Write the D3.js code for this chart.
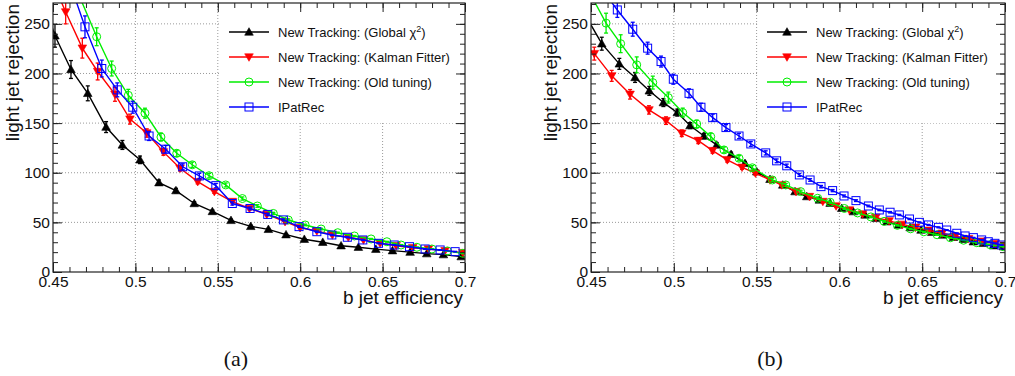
<!DOCTYPE html>
<html>
<head>
<meta charset="utf-8">
<script src="https://cdn.jsdelivr.net/npm/d3@7"></script>
<style>
  body { margin: 0; background: #fff; }
  svg { display: block; }
</style>
</head>
<body>
<svg id="chart" width="1015" height="376" font-family="Liberation Sans, Arial, sans-serif"></svg>
<script>
// ---------------- data: panel (a) ----------------
const aGlobalX = [0.4410, 0.4512, 0.4609, 0.4711, 0.4822, 0.4921, 0.5028, 0.5143, 0.5246, 0.5357, 0.5467, 0.5580, 0.5700, 0.5807, 0.5914, 0.6025, 0.6137, 0.6248, 0.6353, 0.6459, 0.6560, 0.6667, 0.6768, 0.6869, 0.6977];
const aGlobalY = [290, 238, 204, 180, 146, 128, 113, 90, 82, 69, 61, 52, 46, 43, 37.6, 33, 30, 26.5, 25, 23, 21.5, 20, 18.5, 17.5, 15.5];
const aGlobalE = [0, 11.5, 9, 7.5, 5.5, 4.5, 3.8, 2.7, 2.3, 1.8, 1.5, 1.2, 1, 0.9, 0.7, 0.6, 0.5, 0.4, 0.4, 0.4, 0.3, 0.3, 0.3, 0.3, 0.2];

const aKalmanX = [0.4477, 0.4577, 0.4678, 0.4771, 0.4876, 0.4967, 0.5069, 0.5170, 0.5271, 0.5378, 0.5479, 0.5588, 0.5692, 0.5797, 0.5908, 0.5999, 0.6101, 0.6195, 0.6292, 0.6384, 0.6485, 0.6582, 0.6683, 0.6778, 0.6879, 0.6987];
const aKalmanY = [300, 262, 225.5, 202, 179, 154, 140, 121, 104.5, 91, 81, 71, 64, 58, 50.7, 44.7, 41.3, 37.3, 35, 32.3, 28.9, 26.5, 24.5, 23.2, 21.5, 19.5];
const aKalmanE = [0, 12, 10, 8.5, 7, 5, 4.2, 3.4, 2.7, 2.2, 1.8, 1.5, 1.3, 1.1, 0.9, 0.8, 0.7, 0.6, 0.5, 0.5, 0.4, 0.4, 0.3, 0.3, 0.3, 0.3];

const aOldX = [0.4665, 0.4765, 0.4856, 0.4957, 0.5058, 0.5155, 0.5251, 0.5345, 0.5447, 0.5548, 0.5649, 0.5740, 0.5837, 0.5928, 0.6030, 0.6127, 0.6228, 0.6329, 0.6430, 0.6526, 0.6612, 0.6708, 0.6799, 0.6893, 0.6987];
const aOldY = [276, 237, 205, 178, 160, 136, 119.6, 108, 97, 87.7, 74, 66.5, 59, 52.4, 47.4, 43.3, 39.6, 36.3, 33.3, 30.5, 27.2, 24.9, 23.2, 21.2, 18.8];
const aOldE = [0, 9, 7.5, 6, 5, 4, 3.2, 2.7, 2.3, 2, 1.6, 1.3, 1.1, 0.9, 0.8, 0.7, 0.6, 0.5, 0.5, 0.4, 0.4, 0.3, 0.3, 0.3, 0.3];

const aIPatX = [0.4594, 0.4694, 0.4796, 0.4890, 0.4984, 0.5083, 0.5184, 0.5287, 0.5388, 0.5488, 0.5588, 0.5696, 0.5803, 0.5898, 0.5993, 0.6101, 0.6192, 0.6286, 0.6380, 0.6475, 0.6570, 0.6663, 0.6758, 0.6849, 0.6940];
const aIPatY = [295, 247, 205, 183.5, 166, 137, 123.7, 106, 96.8, 87, 69, 64, 58, 52.5, 45.7, 40.6, 37.3, 35, 32.3, 28.9, 27.2, 25.5, 23.2, 22.2, 20.5];
const aIPatE = [0, 11, 8.5, 7, 6, 4.5, 3.8, 3, 2.6, 2.2, 1.6, 1.4, 1.2, 1, 0.8, 0.7, 0.6, 0.5, 0.5, 0.4, 0.4, 0.3, 0.3, 0.3, 0.3];

// ---------------- data: panel (b) ----------------
const bGlobalX = [0.4465, 0.4565, 0.4671, 0.4766, 0.4852, 0.4937, 0.5021, 0.5098, 0.5182, 0.5259, 0.5346, 0.5430, 0.5501, 0.5581, 0.5658, 0.5732, 0.5803, 0.5879, 0.5944, 0.6014, 0.6084, 0.6155, 0.6221, 0.6286, 0.6356, 0.6427, 0.6493, 0.6558, 0.6624, 0.6689, 0.6749, 0.6809, 0.6869, 0.6930, 0.6990];
const bGlobalY = [259, 230, 209.7, 196, 182.5, 170.7, 160.6, 147.5, 137, 128, 118.6, 109.5, 101, 93.4, 87.7, 81, 76, 72.6, 69.3, 64.2, 60.8, 57.5, 54, 50.7, 47.4, 44.7, 42.3, 40, 37.3, 35, 33, 30.5, 28.9, 26.5, 25.5];
const bGlobalE = [0, 6.5, 5.5, 5, 4.5, 4, 3.5, 3, 2.7, 2.4, 2.1, 1.8, 1.6, 1.4, 1.3, 1.1, 1, 0.9, 0.9, 0.8, 0.7, 0.7, 0.6, 0.6, 0.5, 0.5, 0.5, 0.4, 0.4, 0.4, 0.4, 0.3, 0.3, 0.3, 0.3];

const bKalmanX = [0.4520, 0.4625, 0.4736, 0.4850, 0.4953, 0.5048, 0.5148, 0.5234, 0.5323, 0.5412, 0.5493, 0.5581, 0.5652, 0.5738, 0.5819, 0.5900, 0.5980, 0.6060, 0.6140, 0.6220, 0.6300, 0.6380, 0.6460, 0.6540, 0.6620, 0.6700, 0.6780, 0.6860, 0.6940, 0.6995];
const bKalmanY = [220, 197.6, 179, 163.3, 152.5, 139.8, 132.4, 122.3, 113, 105.5, 99.5, 92.7, 87.7, 81, 76, 71, 66.5, 62.5, 58.5, 55, 51.5, 48, 45, 42, 39, 36, 33.5, 31, 28.5, 27];
const bKalmanE = [6.5, 5.5, 4.8, 4.2, 3.8, 3.3, 3, 2.6, 2.3, 2, 1.8, 1.6, 1.5, 1.3, 1.2, 1.1, 1, 0.9, 0.8, 0.8, 0.7, 0.6, 0.6, 0.5, 0.5, 0.4, 0.4, 0.4, 0.3, 0.3];

const bOldX = [0.4490, 0.4591, 0.4679, 0.4776, 0.4873, 0.4967, 0.5054, 0.5138, 0.5223, 0.5303, 0.5394, 0.5474, 0.5595, 0.5676, 0.5766, 0.5869, 0.5944, 0.6030, 0.6110, 0.6190, 0.6270, 0.6350, 0.6430, 0.6510, 0.6590, 0.6670, 0.6750, 0.6830, 0.6910, 0.6990];
const bOldY = [282, 250.7, 230, 208.7, 190.8, 175.7, 160.6, 149, 136.4, 123, 114.6, 105, 92.7, 87.7, 81, 74.3, 70.3, 64, 59.5, 55.5, 51, 47, 43.5, 40.5, 37.5, 34.5, 32, 29.5, 27.5, 25.5];
const bOldE = [0, 10, 9, 8, 6.5, 5.5, 4.5, 4, 3.5, 3, 2.6, 2.2, 1.8, 1.6, 1.4, 1.3, 1.2, 1, 0.9, 0.8, 0.7, 0.6, 0.6, 0.5, 0.5, 0.4, 0.4, 0.4, 0.3, 0.3];

const bIPatX = [0.4565, 0.4659, 0.4752, 0.4842, 0.4923, 0.4997, 0.5092, 0.5164, 0.5235, 0.5315, 0.5394, 0.5465, 0.5555, 0.5621, 0.5682, 0.5758, 0.5823, 0.5889, 0.5959, 0.6028, 0.6100, 0.6175, 0.6241, 0.6306, 0.6362, 0.6423, 0.6483, 0.6538, 0.6598, 0.6648, 0.6709, 0.6759, 0.6809, 0.6859, 0.6899, 0.6939, 0.6980];
const bIPatY = [285, 264, 244.6, 225.5, 212, 194.2, 180, 166, 155.5, 145.5, 137, 129, 120, 112, 107, 97.8, 92.7, 86, 82, 76.6, 71.9, 66.5, 62.5, 60.2, 57.5, 53.4, 50, 47.4, 45, 42.3, 39, 36.3, 34.6, 32.3, 30.5, 28.9, 27.2];
const bIPatE = [0, 7.5, 7, 6, 5.5, 5, 4.5, 4, 3.5, 3, 2.7, 2.4, 2.1, 1.9, 1.7, 1.5, 1.3, 1.2, 1.1, 1, 0.9, 0.8, 0.7, 0.7, 0.6, 0.6, 0.5, 0.5, 0.5, 0.4, 0.4, 0.4, 0.3, 0.3, 0.3, 0.3, 0.3];

// ---------------- labels ----------------
const seriesNames = ["New Tracking: (Global \u03c7", "New Tracking: (Kalman Fitter)", "New Tracking: (Old tuning)", "IPatRec"];
const seriesColors = ["#000000", "#ff0000", "#00ee00", "#0000ff"];
const seriesMarkers = ["triangleUp", "triangleDown", "circle", "square"];
const xTicks = [0.45, 0.5, 0.55, 0.6, 0.65, 0.7];
const yTicks = [0, 50, 100, 150, 200, 250];
const xDomain = [0.45, 0.7];
const yDomain = [0, 271];
const xTitle = "b jet efficiency";
const yTitle = "light jet rejection";
const panelLabels = ["(a)", "(b)"];

const panels = [
  { key: "a", box: [53, 465, 3, 272], legendX: 220, labelX: 236,
    series: [[aGlobalX, aGlobalY, aGlobalE], [aKalmanX, aKalmanY, aKalmanE], [aOldX, aOldY, aOldE], [aIPatX, aIPatY, aIPatE]] },
  { key: "b", box: [591, 1005, 3, 272], legendX: 758, labelX: 770,
    series: [[bGlobalX, bGlobalY, bGlobalE], [bKalmanX, bKalmanY, bKalmanE], [bOldX, bOldY, bOldE], [bIPatX, bIPatY, bIPatE]] }
];

const SANS = "Liberation Sans, Arial, sans-serif";
const SERIF = "Liberation Serif, DejaVu Serif, serif";
const svg = d3.select("#chart");
svg.append("rect").attr("width", 1015).attr("height", 376).attr("fill", "#fff");

function drawMarker(g, type, color, cx, cy) {
  if (type === "triangleUp" || type === "triangleDown") {
    const s = 4.3, dir = type === "triangleUp" ? 1 : -1;
    const pts = [[cx, cy - dir * s], [cx - s, cy + dir * s * 0.75], [cx + s, cy + dir * s * 0.75]];
    g.append("path").attr("d", "M" + pts.map(p => p.join(",")).join("L") + "Z").attr("fill", color).attr("stroke", color).attr("stroke-width", 0.6);
  } else if (type === "circle") {
    g.append("circle").attr("cx", cx).attr("cy", cy).attr("r", 4).attr("fill", "none").attr("stroke", color).attr("stroke-width", 1);
  } else {
    g.append("rect").attr("x", cx - 4).attr("y", cy - 4).attr("width", 8).attr("height", 8).attr("fill", "none").attr("stroke", color).attr("stroke-width", 1);
  }
}

panels.forEach((p, pi) => {
  const [L, R, T, B] = p.box;
  const x = d3.scaleLinear().domain(xDomain).range([L, R]);
  const y = d3.scaleLinear().domain(yDomain).range([B, T]);
  const g = svg.append("g");

  const clipId = "clip-" + p.key;
  svg.append("clipPath").attr("id", clipId).append("rect").attr("x", L).attr("y", T).attr("width", R - L).attr("height", B - T);

  // grid
  const grid = g.append("g").attr("stroke", "#9a9a9a").attr("stroke-width", 1).attr("stroke-dasharray", "1,2");
  xTicks.slice(1, -1).forEach(t => grid.append("line").attr("x1", x(t)).attr("x2", x(t)).attr("y1", T).attr("y2", B));
  yTicks.slice(1).forEach(t => grid.append("line").attr("x1", L).attr("x2", R).attr("y1", y(t)).attr("y2", y(t)));

  // legend background
  g.append("rect").attr("x", p.legendX).attr("y", T).attr("width", R - 2 - p.legendX).attr("height", 120).attr("fill", "#fff");

  // data
  const dg = g.append("g").attr("clip-path", `url(#${clipId})`);
  const line = d3.line().x(d => x(d[0])).y(d => y(d[1]));
  p.series.forEach((s, si) => {
    const color = seriesColors[si];
    const pts = s[0].map((xv, i) => [xv, s[1][i], s[2][i]]);
    dg.append("path").attr("d", line(pts)).attr("fill", "none").attr("stroke", color).attr("stroke-width", 1.4);
    const eg = dg.append("g").attr("stroke", color).attr("stroke-width", 1.3);
    pts.forEach(d => {
      if (d[2] > 0) {
        const cx = x(d[0]), y1 = y(d[1] - d[2]), y2 = y(d[1] + d[2]);
        eg.append("line").attr("x1", cx).attr("x2", cx).attr("y1", y1).attr("y2", y2);
        eg.append("line").attr("x1", cx - 2).attr("x2", cx + 2).attr("y1", y1).attr("y2", y1);
        eg.append("line").attr("x1", cx - 2).attr("x2", cx + 2).attr("y1", y2).attr("y2", y2);
      }
    });
    const mg = dg.append("g");
    pts.forEach(d => drawMarker(mg, seriesMarkers[si], color, x(d[0]), y(d[1])));
  });

  // axes with inward ticks (ROOT style)
  const xMinor = d3.range(0.45, 0.7001, 0.01).map(v => +v.toFixed(3));
  const yMinor = d3.range(0, 271, 10);
  const axStyle = sel => { sel.select(".domain").remove(); sel.selectAll("line").attr("stroke", "#222"); };

  g.append("g").attr("transform", `translate(0,${B})`).call(d3.axisBottom(x).tickValues(xMinor).tickSize(-5).tickFormat("")).call(axStyle);
  g.append("g").attr("transform", `translate(0,${T})`).call(d3.axisTop(x).tickValues(xMinor).tickSize(-5).tickFormat("")).call(axStyle);
  g.append("g").attr("transform", `translate(0,${T})`).call(d3.axisTop(x).tickValues(xTicks).tickSize(-9).tickFormat("")).call(axStyle);
  g.append("g").attr("transform", `translate(${L},0)`).call(d3.axisLeft(y).tickValues(yMinor).tickSize(-5).tickFormat("")).call(axStyle);
  g.append("g").attr("transform", `translate(${R},0)`).call(d3.axisRight(y).tickValues(yMinor).tickSize(-5).tickFormat("")).call(axStyle);
  g.append("g").attr("transform", `translate(${R},0)`).call(d3.axisRight(y).tickValues(yTicks).tickSize(-9).tickFormat("")).call(axStyle);

  const xa = g.append("g").attr("transform", `translate(0,${B})`)
    .call(d3.axisBottom(x).tickValues(xTicks).tickSize(-9).tickPadding(4).tickFormat(d => String(+d.toFixed(2)))).call(axStyle);
  xa.attr("font-family", SANS).attr("font-size", 15.5);
  xa.selectAll("text").attr("fill", "#111");
  const ya = g.append("g").attr("transform", `translate(${L},0)`)
    .call(d3.axisLeft(y).tickValues(yTicks).tickSize(-9).tickPadding(3).tickFormat(d3.format("d"))).call(axStyle);
  ya.attr("font-family", SANS).attr("font-size", 15.5);
  ya.selectAll("text").attr("fill", "#111");

  // frame
  g.append("rect").attr("x", L).attr("y", T).attr("width", R - L).attr("height", B - T)
    .attr("fill", "none").attr("stroke", "#222").attr("stroke-width", 1.2);

  // titles
  g.append("text").attr("x", R - 2).attr("y", B + 32).attr("text-anchor", "end").attr("font-size", 19).attr("fill", "#111").text(xTitle);
  g.append("text").attr("transform", `translate(${L - 34},${T + 1}) rotate(-90)`).attr("text-anchor", "end").attr("font-size", 19).attr("fill", "#111").text(yTitle);

  // legend entries
  const lg = g.append("g");
  const lx0 = p.legendX + 9, lx1 = lx0 + 40;
  seriesNames.forEach((name, si) => {
    const ly = 32 + si * 25;
    const color = seriesColors[si];
    lg.append("line").attr("x1", lx0).attr("x2", lx1).attr("y1", ly).attr("y2", ly).attr("stroke", color).attr("stroke-width", 1.4);
    drawMarker(lg, seriesMarkers[si], color, (lx0 + lx1) / 2, ly);
    const t = lg.append("text").attr("x", lx1 + 9).attr("y", ly + 4.5).attr("font-size", 13).attr("fill", "#111");
    if (si === 0) {
      t.append("tspan").text(name);
      t.append("tspan").attr("dy", -5).attr("font-size", 9).text("2");
      t.append("tspan").attr("dy", 5).text(")");
    } else {
      t.text(name);
    }
  });

  // panel label
  svg.append("text").attr("x", p.labelX).attr("y", 366).attr("text-anchor", "middle")
    .attr("font-family", SERIF).attr("font-size", 22).attr("fill", "#111").text(panelLabels[pi]);
});
</script>
</body>
</html>
